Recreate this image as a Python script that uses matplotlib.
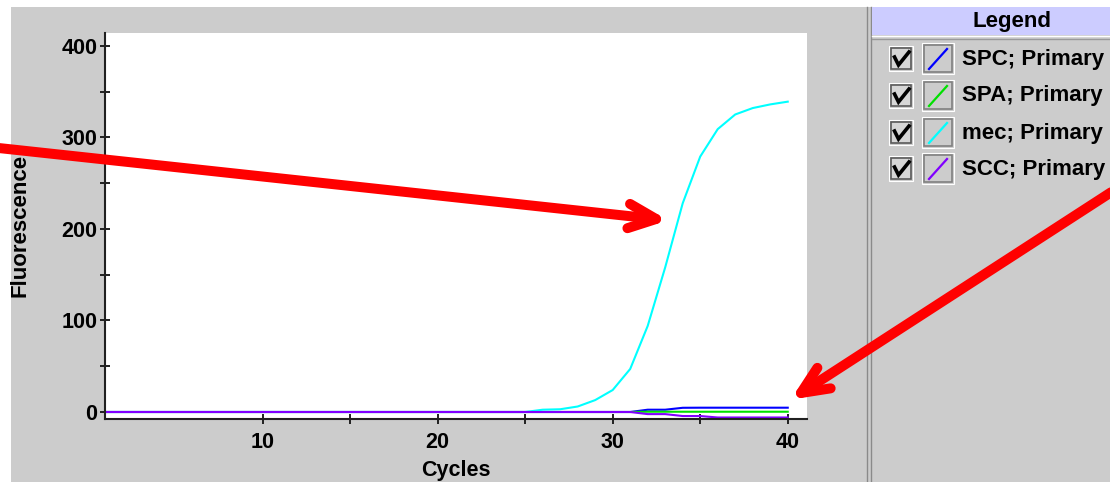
import matplotlib
matplotlib.use('Agg')
import matplotlib.pyplot as plt
import numpy as np
from matplotlib.lines import Line2D
from matplotlib.patches import Rectangle

# amplification curves, one value per cycle
cycles = list(range(1, 41))
spc = [0, 0, 0, 0, 0, 0, 0, 0, 0, 0, 0, 0, 0, 0, 0, 0, 0, 0, 0, 0,
       0, 0, 0, 0, 0, 0, 0, 0, 0, 0, 0, 2.5, 2.5, 4.6, 4.7, 4.7, 4.7, 4.7, 4.7, 4.7]
spa = [0, 0, 0, 0, 0, 0, 0, 0, 0, 0, 0, 0, 0, 0, 0, 0, 0, 0, 0, 0,
       0, 0, 0, 0, 0, 0, 0, 0, 0, 0, 0, 0.3, 0.3, 0.3, 0.3, 0.3, 0.3, 0.3, 0.3, 0.3]
mec = [0, 0, 0, 0, 0, 0, 0, 0, 0, 0, 0, 0, 0, 0, 0, 0, 0, 0, 0, 0,
       0, 0, 0, 0, 0, 2.5, 3, 6, 13, 24, 47, 94, 158, 228, 279, 309, 325, 332, 336, 339]
scc = [0, 0, 0, 0, 0, 0, 0, 0, 0, 0, 0, 0, 0, 0, 0, 0, 0, 0, 0, 0,
       0, 0, 0, 0, 0, 0, 0, 0, 0, 0, 0, -2.3, -2.3, -4.4, -4.4, -6, -6, -6, -6, -6]

series_names = ['SPC', 'SPA', 'mec', 'SCC']
series_colors = ['#0000ff', '#00e000', '#00ffff', '#8000ff']
legend_labels = ['SPC; Primary', 'SPA; Primary', 'mec; Primary', 'SCC; Primary']

plt.rcParams['font.family'] = ['Liberation Sans', 'DejaVu Sans']
plt.rcParams['font.weight'] = 'bold'

W, H = 1110, 482
fig = plt.figure(figsize=(W / 100, H / 100), dpi=100)
fig.patch.set_facecolor('white')


def fx(x):
    return x / W


def fy(y):
    return 1 - y / H


def rect(x0, y0, x1, y1, face='none', edge='none', lw=0.0, z=1):
    fig.add_artist(Rectangle((fx(x0), fy(y1)), fx(x1) - fx(x0), fy(y0) - fy(y1),
                             transform=fig.transFigure, facecolor=face,
                             edgecolor=edge, linewidth=lw, zorder=z))


def pline(xs, ys, color, lw, z=2, **kw):
    fig.add_artist(Line2D([fx(x) for x in xs], [fy(y) for y in ys],
                          transform=fig.transFigure, color=color, lw=lw,
                          zorder=z, **kw))


# grey window background
rect(11, 7, W, H, face='#cccccc', z=-10)

# plot area
ax = fig.add_axes([fx(105), fy(418.5), fx(807) - fx(105), fy(33) - fy(418.5)])
ax.set_facecolor('white')
for name, vals, col in zip(series_names, [spc, spa, mec, scc], series_colors):
    ax.plot(cycles, vals, color=col, lw=1.5, label=name)

ax.set_xlim(1, 41.1)
ax.set_ylim(-7.1, 414)
ax.set_xticks([10, 20, 30, 40])
ax.set_xticks([15, 25, 35], minor=True)
ax.set_yticks([0, 100, 200, 300, 400])
ax.set_yticks([50, 150, 250, 350], minor=True)
ax.tick_params(which='both', direction='inout', length=7.2, width=1.4, color='#202020')
ax.tick_params(axis='x', which='major', labelsize=15.5, pad=6)
ax.tick_params(axis='y', which='major', labelsize=15.5, pad=2)
for s in ['top', 'right']:
    ax.spines[s].set_visible(False)
for s in ['left', 'bottom']:
    ax.spines[s].set_linewidth(1.5)
    ax.spines[s].set_color('#202020')

ax.set_xlabel('Cycles', fontsize=15.5, fontweight='bold')
ax.set_ylabel('Fluorescence', fontsize=16, fontweight='bold')
ax.xaxis.set_label_coords(0.5, -0.108)
ax.yaxis.set_label_coords(-0.106, 0.5)

# legend panel
pline([867, 867], [7, H], '#8a8a8a', 1.0, z=1)
pline([871, 871], [7, H], '#8a8a8a', 1.0, z=1)
rect(872, 7, W, 35, face='#ccccff', z=1)
pline([872, W], [36, 36], 'white', 1.0, z=2)
pline([872, W], [39, 39], '#999999', 1.0, z=2)
fig.text(fx(1012), fy(21), 'Legend', fontsize=16, fontweight='bold',
         ha='center', va='center', zorder=3)

rows = [59, 96, 133, 169]
for yc, col, lab in zip(rows, series_colors, legend_labels):
    # check box
    rect(889, yc - 13, 913, yc + 12, edge='white', lw=0.8, z=2)
    rect(891, yc - 11, 911, yc + 10, face='#d6d6d6', edge='#5a5a5a', lw=1.2, z=2)
    pline([894.5, 898.5, 909], [yc - 2, yc + 6, yc - 7], 'black', 2.6, z=3,
          solid_joinstyle='miter')
    # line icon
    rect(922, yc - 16, 954, yc + 15, edge='white', lw=0.8, z=2)
    rect(924, yc - 14, 952, yc + 13, face='#cccccc', edge='#808080', lw=1.2, z=2)
    pline([929, 947], [yc + 10, yc - 10], col, 1.6, z=3)
    fig.text(fx(962), fy(yc), lab, fontsize=16, fontweight='bold',
             ha='left', va='center', zorder=3)


# red annotation arrows drawn over the screenshot
def red_arrow(x0, y0, x1, y1, head=30, ang=24):
    a = np.arctan2(y0 - y1, x0 - x1)
    pline([x0, x1], [y0, y1], '#ff0000', 7.2, z=20, solid_capstyle='round')
    hx, hy = [], []
    for s in (-1, 0, 1):
        if s == 0:
            hx.append(x1)
            hy.append(y1)
        else:
            b = a + np.radians(s * ang)
            hx.append(x1 + head * np.cos(b))
            hy.append(y1 + head * np.sin(b))
    pline(hx, hy, '#ff0000', 7.2, z=20, solid_capstyle='round',
          solid_joinstyle='round')


red_arrow(-20, 146, 656, 219)
red_arrow(1130, 180, 801, 393)

plt.savefig('out.png', dpi=100)
